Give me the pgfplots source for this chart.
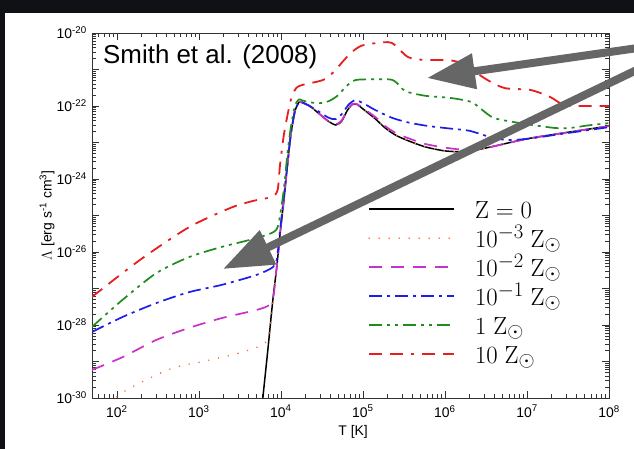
\documentclass[border=0pt]{standalone}
\usepackage[no-math]{fontspec}
\setmainfont{Liberation Sans}
\usepackage{pgfplots}
\pgfplotsset{compat=1.18}
\usetikzlibrary{arrows.meta}
\definecolor{bgdark}{RGB}{15,17,20}
\definecolor{arrowgrey}{RGB}{102,102,102}
\definecolor{zthree}{RGB}{250,120,60}
\definecolor{ztwo}{RGB}{200,50,200}
\definecolor{zone}{RGB}{30,30,230}
\definecolor{zsol}{RGB}{30,140,30}
\definecolor{zten}{RGB}{230,30,30}
\newcommand{\tl}[1]{10\textsuperscript{#1}}
% minor ticks of the log axes (axes hold log10 values)
\def\xminor{}
\foreach \d in {1,...,7}{\foreach \m in {0.30103,0.47712,0.60206,0.69897,0.77815,0.8451,0.90309,0.95424}{\pgfmathparse{\d+\m}\xdef\xminor{\xminor\pgfmathresult,}}}
\xdef\xminor{\xminor 8}
\def\yminor{}
\foreach \d in {-30,...,-21}{\foreach \m in {0.30103,0.47712,0.60206,0.69897,0.77815,0.8451,0.90309,0.95424}{\pgfmathparse{\d+\m}\xdef\yminor{\yminor\pgfmathresult,}}}
\xdef\yminor{\yminor -20}

\begin{document}
\begin{tikzpicture}
\useasboundingbox (0bp,0bp) rectangle (634bp,449bp);
\fill[bgdark] (0bp,0bp) rectangle (634bp,449bp);
\fill[white] (5bp,0bp) rectangle (634bp,436bp);
\begin{axis}[
  at={(92bp,51bp)}, anchor=south west,
  scale only axis, width=517bp, height=365bp,
  xmin=1.697, xmax=8, ymin=-30, ymax=-20,
  xtick={2,...,8},
  xticklabels={\tl{2},\tl{3},\tl{4},\tl{5},\tl{6},\tl{7},\tl{8}},
  ytick={-30,...,-20},
  yticklabels={\tl{-30},{},\tl{-28},{},\tl{-26},{},\tl{-24},{},\tl{-22},{},\tl{-20}},
  minor xtick/.expanded=\xminor,
  minor ytick/.expanded=\yminor,
  major tick length=7bp, minor tick length=4bp,
  tick style={black!80, line width=0.5bp},
  axis line style={black!80, line width=0.6bp},
  tick label style={font=\fontsize{14}{16}\selectfont},
  xticklabel style={inner sep=0pt, yshift=-7bp},
  yticklabel style={inner sep=0pt, xshift=-5bp},
  xlabel={T [K]},
  ylabel={$\Lambda$ [erg s\textsuperscript{-1} cm\textsuperscript{3}]},
  label style={font=\fontsize{14}{16}\selectfont},
  xlabel style={at={(rel axis cs:0.505,-0.074)}, anchor=north, inner sep=0pt},
  ylabel style={at={(rel axis cs:-0.072,0.5)}, anchor=south, inner sep=0pt},
  legend image code/.code={\draw[#1] (0bp,9bp) -- (85bp,9bp);},
  legend style={at={(rel axis cs:0.534,0.5397)}, anchor=north west,
    draw=none, fill=none, inner sep=0pt,
    font=\fontsize{24.88}{28}\selectfont,
    nodes={inner sep=0pt, text height=17bp, text depth=7bp, anchor=base west},
    row sep=5bp,
    /tikz/every odd column/.append style={column sep=20bp}},
  legend cell align=left,
  every axis plot/.append style={no markers, smooth, tension=0.45},
]
% Z = 0
\addplot[black, line width=1.5bp] coordinates {
(3.74,-31) (3.78,-30.0) (3.84,-28.7) (3.90,-27.35) (3.95,-26.4) (3.99,-25.5)
(4.04,-24.5) (4.08,-23.6) (4.12,-22.8) (4.17,-22.15) (4.22,-21.9) (4.25,-21.9)
(4.35,-22.0) (4.46,-22.2) (4.58,-22.42) (4.67,-22.52) (4.74,-22.42) (4.81,-22.12)
(4.87,-21.96) (4.93,-21.96) (5.0,-22.08) (5.15,-22.35) (5.27,-22.6) (5.4,-22.8)
(5.55,-22.95) (5.76,-23.12) (6.0,-23.23) (6.25,-23.25) (6.5,-23.15) (7.0,-22.9)
(7.5,-22.72) (8.0,-22.55)};
\addlegendentry{$\mathrm{Z}=0$}
% 1e-3 Zsun
\addplot[zthree, line width=1.8bp, line cap=round, dash pattern=on 0bp off 10bp] coordinates {
(1.60,-31.0) (1.98,-30.0) (2.28,-29.59) (2.68,-29.18) (3.09,-28.98) (3.49,-28.77)
(3.77,-28.55) (3.84,-28.35) (3.88,-27.9) (3.91,-27.2) (3.95,-26.4) (3.99,-25.5)
(4.04,-24.5) (4.08,-23.6) (4.12,-22.8) (4.17,-22.15) (4.22,-21.9) (4.25,-21.9)
(4.35,-22.0) (4.46,-22.2) (4.58,-22.42) (4.67,-22.52) (4.74,-22.42) (4.81,-22.12)
(4.87,-21.96) (4.93,-21.96) (5.0,-22.08) (5.15,-22.35) (5.27,-22.6) (5.4,-22.8)
(5.55,-22.95) (5.76,-23.12) (6.0,-23.23) (6.25,-23.25) (6.5,-23.15) (7.0,-22.9)
(7.5,-22.72) (8.0,-22.55)};
\addlegendentry{$10^{-3}\;\mathrm{Z}_{\odot}$}
% 1e-2 Zsun
\addplot[ztwo, line width=1.7bp, dash pattern=on 13bp off 9bp] coordinates {
(1.697,-29.23) (2.07,-28.88) (2.48,-28.41) (2.88,-28.08) (3.28,-27.81) (3.70,-27.59)
(3.86,-27.45) (3.91,-27.2) (3.94,-26.6) (3.97,-26.0) (3.99,-25.5)
(4.04,-24.5) (4.08,-23.6) (4.12,-22.8) (4.17,-22.15) (4.22,-21.9) (4.25,-21.9)
(4.35,-22.0) (4.46,-22.2) (4.58,-22.42) (4.67,-22.5) (4.74,-22.4) (4.81,-22.1)
(4.87,-21.95) (4.93,-21.95) (5.0,-22.06) (5.15,-22.3) (5.27,-22.55) (5.4,-22.74)
(5.55,-22.88) (5.76,-23.04) (6.0,-23.14) (6.25,-23.2) (6.5,-23.15) (7.0,-22.9)
(7.5,-22.72) (8.0,-22.55)};
\addlegendentry{$10^{-2}\;\mathrm{Z}_{\odot}$}
% 1e-1 Zsun
\addplot[zone, line width=1.7bp, dash pattern=on 13bp off 5bp on 3bp off 5bp] coordinates {
(1.697,-28.19) (2.07,-27.78) (2.48,-27.4) (2.88,-27.1) (3.28,-26.9) (3.70,-26.63)
(3.90,-26.42) (3.95,-26.2) (3.98,-25.6) (4.02,-24.8) (4.08,-23.6) (4.12,-22.8)
(4.17,-22.15) (4.22,-21.9) (4.26,-21.9) (4.35,-22.0) (4.46,-22.15) (4.58,-22.32)
(4.67,-22.36) (4.75,-22.2) (4.83,-21.95) (4.91,-21.84) (5.0,-21.92) (5.15,-22.11)
(5.35,-22.32) (5.55,-22.45) (5.8,-22.55) (6.07,-22.62) (6.3,-22.68) (6.55,-22.85)
(6.75,-22.93) (7.0,-22.9) (7.5,-22.74) (8.0,-22.58)};
\addlegendentry{$10^{-1}\;\mathrm{Z}_{\odot}$}
% 1 Zsun
\addplot[zsol, line width=1.7bp, dash pattern=on 13bp off 5bp on 3bp off 5bp on 3bp off 5bp] coordinates {
(1.697,-28.05) (2.07,-27.31) (2.48,-26.58) (2.88,-26.14) (3.28,-25.86) (3.70,-25.62)
(3.94,-25.40) (4.0,-24.85) (4.04,-24.2) (4.08,-23.3) (4.12,-22.6) (4.17,-22.0)
(4.22,-21.82) (4.25,-21.84) (4.35,-21.9) (4.5,-21.92) (4.6,-21.85) (4.7,-21.7)
(4.8,-21.45) (4.91,-21.29) (5.1,-21.27) (5.35,-21.28) (5.45,-21.45) (5.52,-21.6)
(5.76,-21.72) (6.07,-21.78) (6.32,-21.89) (6.45,-22.1) (6.6,-22.33) (6.92,-22.47)
(7.33,-22.6) (7.53,-22.6) (7.75,-22.53) (8.0,-22.47)};
\addlegendentry{$1\;\mathrm{Z}_{\odot}$}
% 10 Zsun
\addplot[zten, line width=1.8bp, dash pattern=on 13bp off 8bp on 13bp off 8bp on 3bp off 8bp] coordinates {
(1.697,-27.23) (2.28,-26.22) (2.88,-25.32) (3.41,-24.77) (3.70,-24.58) (3.89,-24.49)
(3.96,-24.3) (3.99,-23.6) (4.04,-22.74) (4.12,-21.84) (4.19,-21.5) (4.3,-21.4)
(4.45,-21.33) (4.55,-21.25) (4.65,-21.05) (4.74,-20.82) (4.85,-20.55) (4.98,-20.35)
(5.15,-20.28) (5.35,-20.27) (5.55,-20.66) (5.76,-20.74) (6.0,-20.74) (6.19,-20.82)
(6.52,-21.29) (6.73,-21.51) (7.04,-21.56) (7.28,-21.75) (7.45,-21.97) (7.7,-22.0)
(8.0,-22.0)};
\addlegendentry{$10\;\mathrm{Z}_{\odot}$}
\end{axis}
\node[anchor=base west, inner sep=0pt, font=\fontsize{26}{30}\selectfont] at (103bp,385bp) {Smith et al. (2008)};
\begin{scope}
\clip (0bp,0bp) rectangle (634bp,449bp);
\draw[arrowgrey, line width=8bp, -{Triangle[length=48bp,width=34bp]}] (645bp,402bp) -- (427bp,371bp);
\draw[arrowgrey, line width=8bp, -{Triangle[length=50bp,width=36bp]}] (645bp,383bp) -- (223bp,180bp);
\end{scope}
\end{tikzpicture}
\end{document}
